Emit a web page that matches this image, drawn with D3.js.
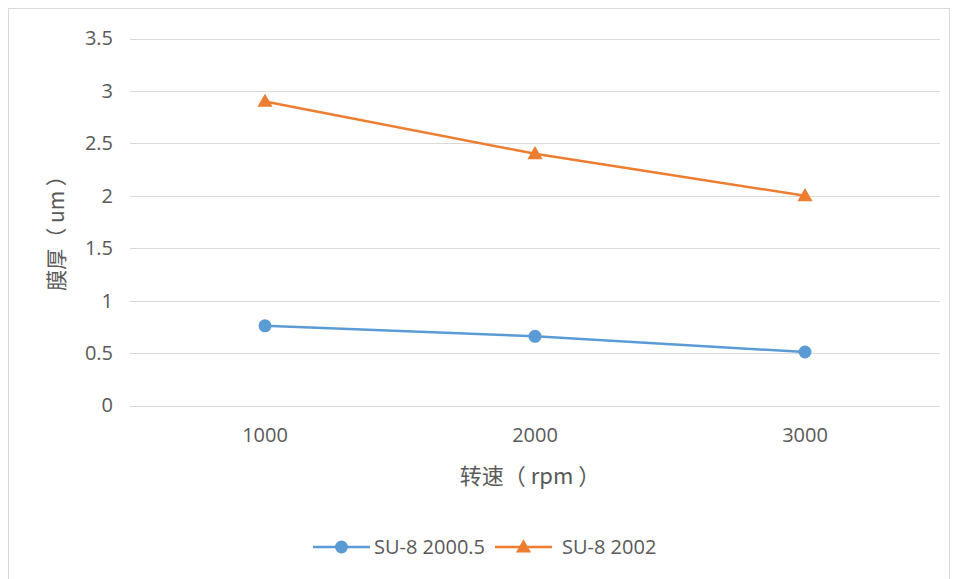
<!DOCTYPE html>
<html>
<head>
<meta charset="utf-8">
<script src="https://cdn.jsdelivr.net/npm/d3@7"></script>
<style>
  html, body { margin: 0; padding: 0; background: #fff; }
  svg { display: block; }
</style>
</head>
<body>
<svg id="chart" width="960" height="579"></svg>
<script>
// Spin speed (rpm) vs film thickness (um) for two SU-8 formulations
const categories = ["1000", "2000", "3000"];
const seriesNames = ["SU-8 2000.5", "SU-8 2002"];
const su8_2000_5 = [0.76, 0.66, 0.51];
const su8_2002 = [2.9, 2.4, 2.0];
const yTicks = [0, 0.5, 1, 1.5, 2, 2.5, 3, 3.5];
const xTitle = "转速（ rpm ）";
const yTitle = "膜厚（ um ）";

const colors = ["#5B9BD5", "#ED7D31"];
const latin = "'Open Sans', 'Noto Sans', sans-serif";
const cjk = "'Noto Sans CJK SC', 'Open Sans', sans-serif";
const textColor = "#595959";

const svg = d3.select("#chart");

// chart area frame
svg.append("rect")
  .attr("x", 8.5).attr("y", 8.5)
  .attr("width", 941).attr("height", 580)
  .attr("fill", "#fff")
  .attr("stroke", "#d9d9d9").attr("stroke-width", 1);

const plot = { left: 130, right: 940, top: 38.5, bottom: 405.5 };

const x = d3.scaleBand().domain(categories).range([plot.left, plot.right]);
const y = d3.scaleLinear().domain([0, 3.5]).range([plot.bottom, plot.top]);
const cx = d => x(d) + x.bandwidth() / 2;

// horizontal gridlines
svg.append("g")
  .selectAll("line")
  .data(yTicks)
  .join("line")
  .attr("x1", plot.left).attr("x2", plot.right)
  .attr("y1", d => Math.round(y(d)) + 0.5).attr("y2", d => Math.round(y(d)) + 0.5)
  .attr("stroke", "#d9d9d9").attr("stroke-width", 1);

// y axis tick labels
const yAxis = d3.axisLeft(y).tickValues(yTicks).tickSize(0).tickPadding(0)
  .tickFormat(d => String(d));
svg.append("g")
  .attr("transform", `translate(${plot.left - 17},0)`)
  .call(yAxis)
  .call(g => g.select(".domain").remove())
  .call(g => g.selectAll("text")
    .attr("fill", textColor)
    .style("font-family", latin)
    .style("font-size", "20px"));

// x axis tick labels
const xAxis = d3.axisBottom(x).tickSize(0).tickPadding(0);
svg.append("g")
  .attr("transform", `translate(0,${plot.bottom + 22})`)
  .call(xAxis)
  .call(g => g.select(".domain").remove())
  .call(g => g.selectAll("text")
    .attr("fill", textColor)
    .style("font-family", latin)
    .style("font-size", "20px"));

// axis titles
svg.append("text")
  .attr("x", 530).attr("y", 484)
  .attr("text-anchor", "middle")
  .attr("fill", textColor)
  .style("font-family", cjk).style("font-size", "22px")
  .text(xTitle);

svg.append("text")
  .attr("transform", `translate(64,228) rotate(-90)`)
  .attr("text-anchor", "middle")
  .attr("fill", textColor)
  .style("font-family", cjk).style("font-size", "21px")
  .text(yTitle);

// series
const series = [su8_2000_5, su8_2002].map((vals, i) => ({
  name: seriesNames[i], color: colors[i],
  points: categories.map((c, j) => ({ c, v: vals[j] }))
}));

const line = d3.line().x(d => cx(d.c)).y(d => y(d.v));

const triangle = d3.symbol().type(d3.symbolTriangle).size(100);

series.forEach((s, i) => {
  svg.append("path")
    .datum(s.points)
    .attr("d", line)
    .attr("fill", "none")
    .attr("stroke", s.color)
    .attr("stroke-width", 2.5)
    .attr("stroke-linejoin", "round");

  if (i === 0) {
    svg.append("g").selectAll("circle")
      .data(s.points).join("circle")
      .attr("cx", d => cx(d.c)).attr("cy", d => y(d.v))
      .attr("r", 6.5).attr("fill", s.color);
  } else {
    svg.append("g").selectAll("path")
      .data(s.points).join("path")
      .attr("transform", d => `translate(${cx(d.c)},${y(d.v) + 1})`)
      .attr("d", triangle).attr("fill", s.color);
  }
});

// legend
const legendY = 547;
const legendItems = [
  { x: 313, textX: 374 },
  { x: 495, textX: 562 }
];
series.forEach((s, i) => {
  const it = legendItems[i];
  const g = svg.append("g");
  g.append("line")
    .attr("x1", it.x).attr("x2", it.x + 57)
    .attr("y1", legendY).attr("y2", legendY)
    .attr("stroke", s.color).attr("stroke-width", 2.5);
  if (i === 0) {
    g.append("circle").attr("cx", it.x + 28.5).attr("cy", legendY).attr("r", 6.5).attr("fill", s.color);
  } else {
    g.append("path").attr("transform", `translate(${it.x + 28.5},${legendY + 1})`)
      .attr("d", triangle).attr("fill", s.color);
  }
  g.append("text")
    .attr("x", it.textX).attr("y", legendY)
    .attr("dy", "0.35em")
    .attr("fill", textColor)
    .style("font-family", latin).style("font-size", "20px")
    .text(s.name);
});
</script>
</body>
</html>
